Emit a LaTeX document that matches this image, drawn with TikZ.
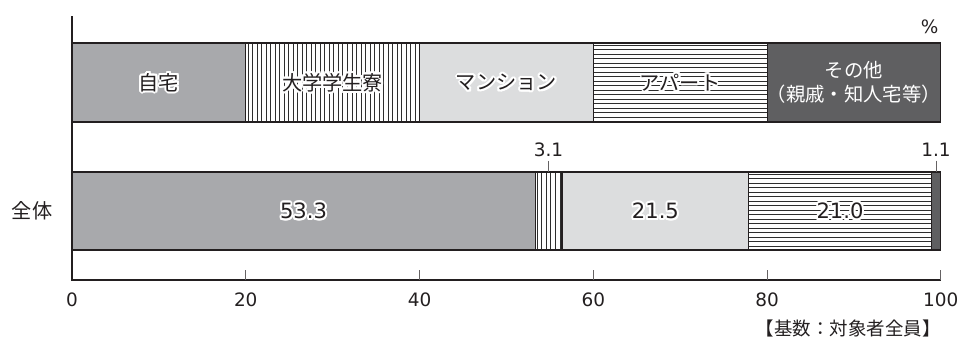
\documentclass[tikz,border=0pt]{standalone}
\usepackage{fontspec}
\setmainfont{Noto Sans CJK JP}
\newfontfamily\numfont{DejaVu Sans}
\usepackage{tikz}
\usetikzlibrary{positioning}

\definecolor{home}{HTML}{A8A9AC}
\definecolor{mansion}{HTML}{DCDDDE}
\definecolor{other}{HTML}{5F5F61}
\definecolor{ink}{HTML}{231F20}
\definecolor{hatch}{HTML}{2E2E2E}

\tikzset{
  seg/.style={draw=ink,line width=0.6pt},
  hatchline/.style={draw=hatch,line width=0.45pt},
  axisline/.style={draw=ink,line width=0.8pt},
  tickline/.style={draw=ink!70,line width=0.6pt},
  lbl/.style={font=\fontsize{11.5}{14}\selectfont,text=ink,inner sep=0pt,align=center},
  num/.style={font=\numfont\fontsize{12}{14}\selectfont,text=ink,inner sep=0pt},
  small/.style={font=\numfont\fontsize{10.5}{12}\selectfont,text=ink,inner sep=0pt},
}

\newcommand\halonode[4]{%
  \foreach \a in {0,22.5,...,337.5}
    \node[#1,text=white,xshift={1.1pt*cos(\a)},yshift={1.1pt*sin(\a)}] at (#3) {#4};
  \node[#1] (#2) at (#3) {#4};
}
\newcommand\vhatch[4]{%
  \begin{scope}
    \clip (#1,#3) rectangle (#2,#4);
    \foreach \i in {0,...,40}
      \draw[hatchline] (#1+0.26+\i*0.52,#3) -- (#1+0.26+\i*0.52,#4);
  \end{scope}
}
\newcommand\hhatch[4]{%
  \begin{scope}
    \clip (#1,#3) rectangle (#2,#4);
    \foreach \i in {0,...,18}
      \draw[hatchline] (#1,#3+2.2+\i*4.5) -- (#2,#3+2.2+\i*4.5);
  \end{scope}
}

\begin{document}
\begin{tikzpicture}[x=0.02cm,y=-0.02cm]
  \useasboundingbox (0,0) rectangle (962,343);
  \begin{scope}[xshift=1.44cm,x=0.1738cm]
    \fill[home] (0,43) rectangle (20,122);
    \vhatch{20}{40}{43}{122}
    \fill[mansion] (40,43) rectangle (60,122);
    \hhatch{60}{80}{43}{122}
    \fill[other] (80,43) rectangle (100,122);
    \draw[seg] (0,43) rectangle (20,122);
    \draw[seg] (20,43) rectangle (40,122);
    \draw[seg] (40,43) rectangle (60,122);
    \draw[seg] (60,43) rectangle (80,122);
    \draw[seg] (80,43) rectangle (100,122);

    \fill[home] (0,172) rectangle (53.3,250);
    \vhatch{53.3}{56.4}{172}{250}
    \fill[mansion] (56.4,172) rectangle (77.9,250);
    \hhatch{77.9}{98.9}{172}{250}
    \fill[other] (98.9,172) rectangle (100,250);
    \draw[seg] (0,172) rectangle (53.3,250);
    \draw[seg] (53.3,172) rectangle (56.4,250);
    \draw[seg] (56.4,172) rectangle (77.9,250);
    \draw[seg] (77.9,172) rectangle (98.9,250);
    \draw[seg] (98.9,172) rectangle (100,250);

    \halonode{lbl}{lhome}{10,82.5}{自宅}
    \halonode{lbl}{ldorm}{30,82.5}{大学学生寮}
    \halonode{lbl}{lmansion}{50,82.5}{マンション}
    \halonode{lbl}{lapart}{70,82.5}{アパート}
    \node[lbl,font=\fontsize{11}{14}\selectfont,text=white] (lother) at (90,82.5) {その他\\（親戚・知人宅等）};

    \halonode{num}{v533}{26.65,211}{53.3}
    \halonode{num}{v215}{67.15,211}{21.5}
    \halonode{num}{v210}{88.4,211}{21.0}
    \node[small] (v31) at (54.85,150) {3.1};
    \node[small] (v11) at (99.45,150) {1.1};
    \coordinate (b31) at (54.85,172);
    \coordinate (b11) at (99.45,172);
    \draw[tickline] ([yshift=-2pt]v31.south) -- (b31);
    \draw[tickline] ([yshift=-2pt]v11.south) -- (b11);

    \draw[axisline] (0,16) -- (0,280) -- (100,280);
    \foreach \t in {20,40,60,80,100}
      \draw[tickline] (\t,270) -- (\t,280);
    \foreach \t in {0,20,...,100}
      \node[small] (t\t) at (\t,300) {\t};

    \node[small] (pct) at (98.7,27) {\%};
    \node[lbl,font=\fontsize{11.5}{14}\selectfont] (all) at (-4.6,211) {全体};
    \node[lbl,font=\fontsize{10.5}{12}\selectfont,anchor=east] (base) at (100,328) {【基数：対象者全員】};
  \end{scope}
\end{tikzpicture}
\end{document}
